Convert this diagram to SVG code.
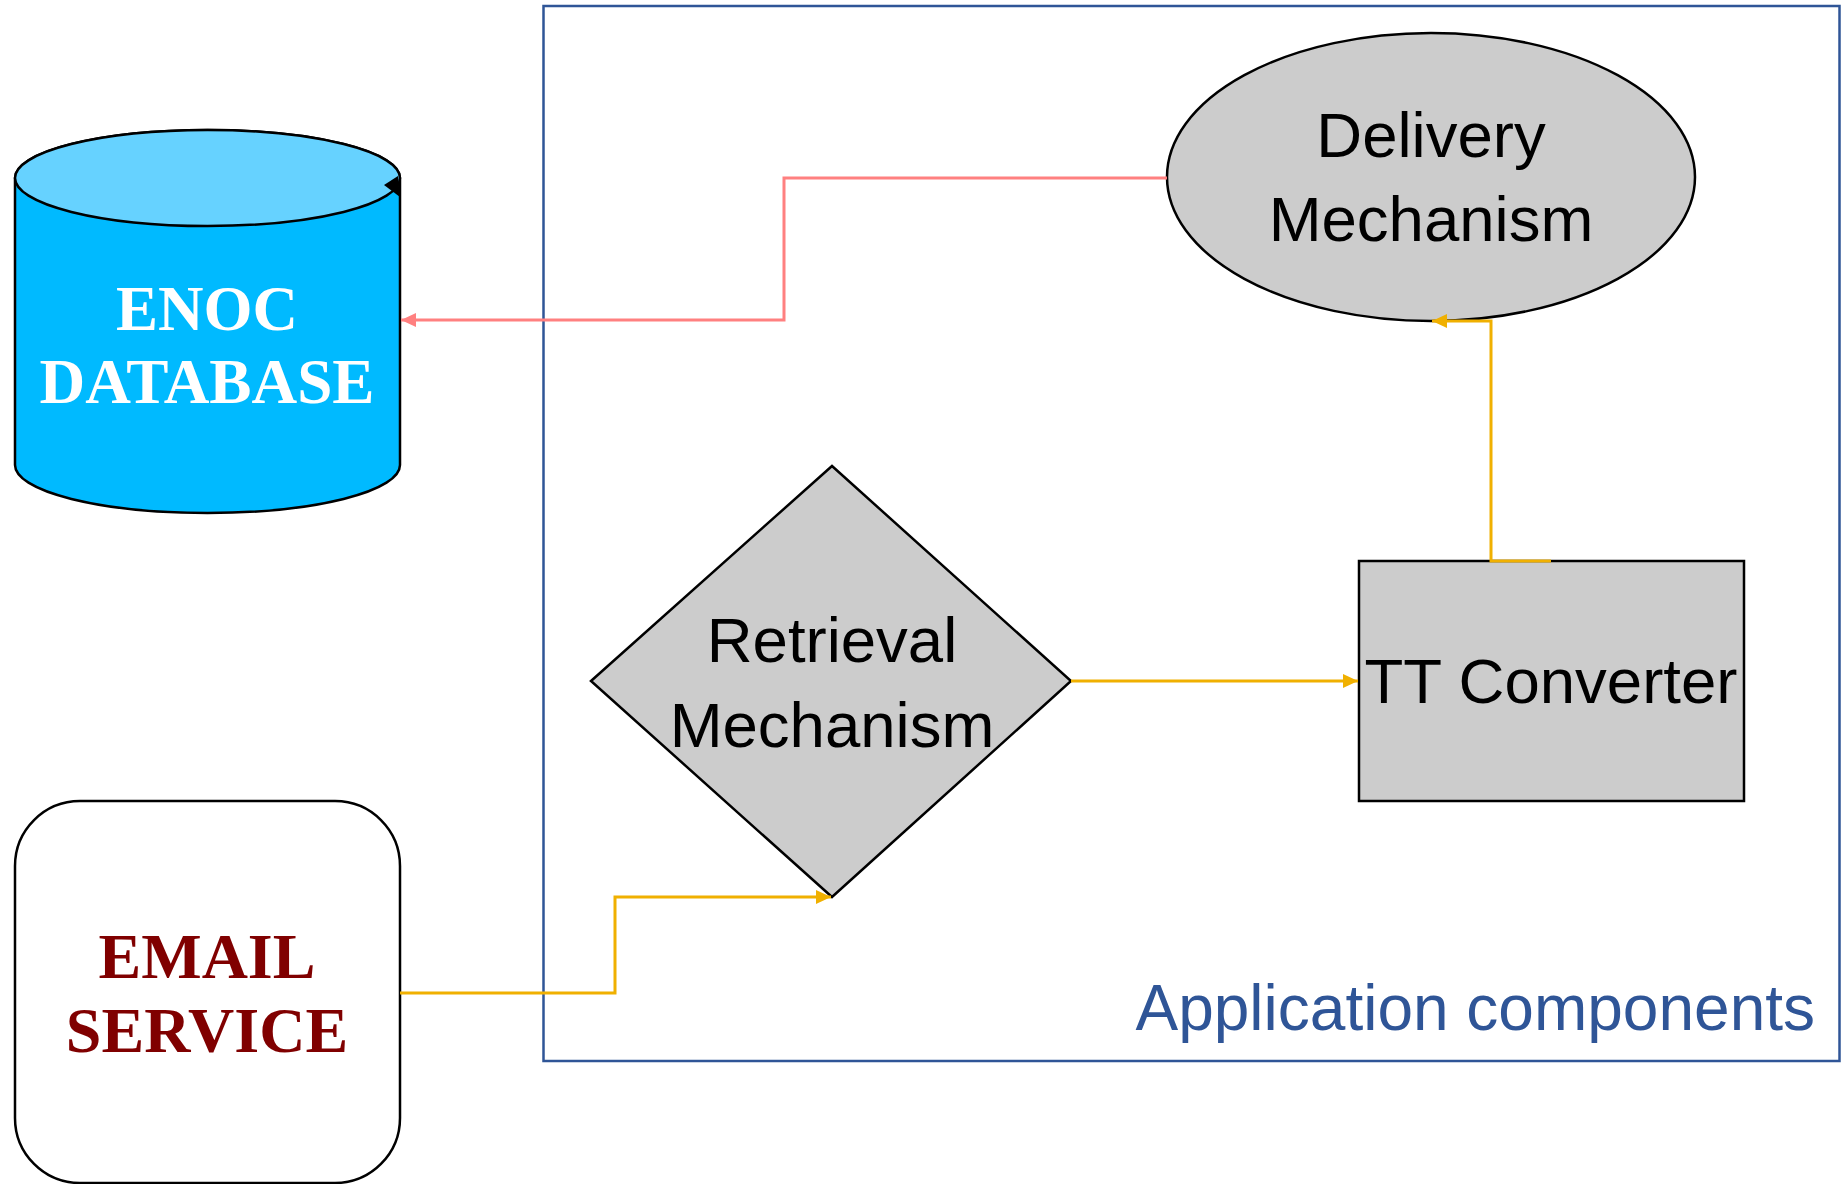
<svg xmlns="http://www.w3.org/2000/svg" width="1845" height="1184" viewBox="0 0 1845 1184">
<style>
.shape{stroke:#000;stroke-width:2.5}
.gray{fill:#CCCCCC}
.lbl{font-family:"Liberation Sans",Arial,sans-serif;font-size:63.5px;fill:#000;text-anchor:middle}
.serif{font-family:"Liberation Serif","Times New Roman",serif;font-size:64px;font-weight:bold;text-anchor:middle}
.red{fill:none;stroke:#FF8080;stroke-width:3}
.org{fill:none;stroke:#F0B000;stroke-width:3}
</style>
<defs>
<marker id="aRed" markerUnits="userSpaceOnUse" markerWidth="16" markerHeight="14" refX="15" refY="7" orient="auto">
<path d="M0,0 L15,7 L0,14 Z" fill="#FF8080"/>
</marker>
<marker id="aOrg" markerUnits="userSpaceOnUse" markerWidth="16" markerHeight="14" refX="15" refY="7" orient="auto">
<path d="M0,0 L15,7 L0,14 Z" fill="#F0B000"/>
</marker>
</defs>
<rect width="1845" height="1184" fill="#fff"/>
<g id="container">
<rect x="543.5" y="6" width="1296" height="1055" fill="none" stroke="#2F5597" stroke-width="2.5"/>
<text x="1815" y="1030" style="font-family:'Liberation Sans',Arial,sans-serif;font-size:64px;fill:#2F5597;text-anchor:end">Application components</text>
</g>
<g id="enoc-database">
<path class="shape" d="M15,178 A192.5,48 0 0 1 400,178 L400,465 A192.5,48 0 0 1 15,465 Z" fill="#00BAFF"/>
<ellipse class="shape" cx="207.5" cy="178" rx="192.5" ry="48" fill="#66D2FF"/>
<path d="M384,185 L398,176 L400,197 Z" fill="#000"/>
<text class="serif" x="207" y="330" fill="#fff" textLength="182" lengthAdjust="spacingAndGlyphs">ENOC</text>
<text class="serif" x="207" y="403" fill="#fff" textLength="335" lengthAdjust="spacingAndGlyphs">DATABASE</text>
</g>
<g id="email-service">
<rect class="shape" x="15" y="801" width="385" height="382" rx="65" ry="65" fill="#fff"/>
<text class="serif" x="207" y="978" fill="#800000">EMAIL</text>
<text class="serif" x="207" y="1052" fill="#800000">SERVICE</text>
</g>
<g id="retrieval-mechanism">
<path class="shape gray" d="M591,681 L832,466 L1071,681 L832,897 Z"/>
<text class="lbl" x="832" y="662">Retrieval</text>
<text class="lbl" x="832" y="747">Mechanism</text>
</g>
<g id="tt-converter">
<rect class="shape gray" x="1359" y="561" width="385" height="240"/>
<text class="lbl" x="1551" y="703">TT Converter</text>
</g>
<g id="delivery-mechanism">
<ellipse class="shape gray" cx="1431" cy="177" rx="264" ry="144"/>
<text class="lbl" x="1431" y="157">Delivery</text>
<text class="lbl" x="1431" y="241">Mechanism</text>
</g>
<g id="connectors">
<path class="red" d="M1167,178 L784,178 L784,320 L401,320" marker-end="url(#aRed)"/>
<path class="org" d="M400,993 L615,993 L615,897 L831,897" marker-end="url(#aOrg)"/>
<path class="org" d="M1071,681 L1358,681" marker-end="url(#aOrg)"/>
<path class="org" d="M1551,561 L1491,561 L1491,321 L1432,321" marker-end="url(#aOrg)"/>
</g>
</svg>
